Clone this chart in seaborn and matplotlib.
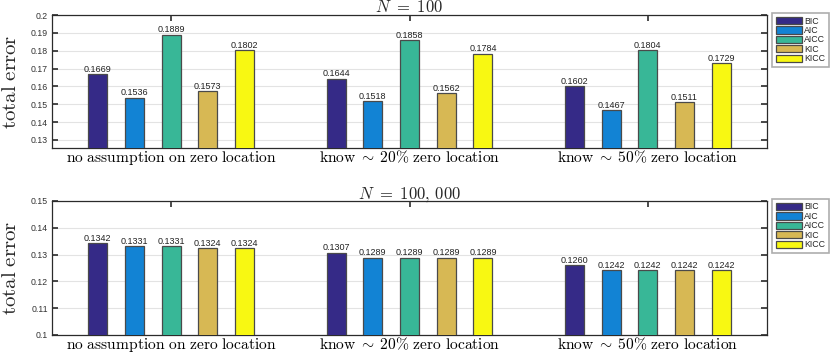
import matplotlib
matplotlib.use("Agg")
import matplotlib.pyplot as plt
import seaborn as sns
import pandas as pd

scenarios = [r"$\mathrm{no\ assumption\ on\ zero\ location}$",
             r"$\mathrm{know}\;\sim\;20\%\ \mathrm{zero\ location}$",
             r"$\mathrm{know}\;\sim\;50\%\ \mathrm{zero\ location}$"]
methods = ["BIC", "AIC", "AICC", "KIC", "KICC"]
colors = ["#352a87", "#1283d4", "#38b797", "#d7b854", "#f8f812"]

err_n100 = {
    "BIC":  [0.1669, 0.1644, 0.1602],
    "AIC":  [0.1536, 0.1518, 0.1467],
    "AICC": [0.1889, 0.1858, 0.1804],
    "KIC":  [0.1573, 0.1562, 0.1511],
    "KICC": [0.1802, 0.1784, 0.1729],
}
err_n100k = {
    "BIC":  [0.1342, 0.1307, 0.1260],
    "AIC":  [0.1331, 0.1289, 0.1242],
    "AICC": [0.1331, 0.1289, 0.1242],
    "KIC":  [0.1324, 0.1289, 0.1242],
    "KICC": [0.1324, 0.1289, 0.1242],
}
titles = [r"$N\ =\ 100$", r"$N\ =\ 100,\,000$"]
ylims = [(0.1255, 0.2), (0.1, 0.15)]
yticks = [[0.13, 0.14, 0.15, 0.16, 0.17, 0.18, 0.19, 0.2],
          [0.1, 0.11, 0.12, 0.13, 0.14, 0.15]]
ytick_labels = [["0.13", "0.14", "0.15", "0.16", "0.17", "0.18", "0.19", "0.2"],
                ["0.1", "0.11", "0.12", "0.13", "0.14", "0.15"]]


def to_long(d):
    rows = []
    for m in methods:
        for s, v in zip(scenarios, d[m]):
            rows.append({"scenario": s, "method": m, "err": v})
    return pd.DataFrame(rows)


sns.set_theme(style="white")
plt.rcParams["mathtext.fontset"] = "cm"
plt.rcParams["font.family"] = ["Liberation Sans", "DejaVu Sans"]

W, H = 831, 353
fig = plt.figure(figsize=(W / 100, H / 100), dpi=100)
axes_px = [(52, 15, 767, 148), (52, 201, 767, 335)]

for i, (data, px) in enumerate(zip([err_n100, err_n100k], axes_px)):
    l, t, r, b = px
    ax = fig.add_axes([l / W, 1 - b / H, (r - l) / W, (b - t) / H])
    df = to_long(data)
    sns.barplot(data=df, x="scenario", y="err", hue="method", hue_order=methods,
                order=scenarios, palette=colors, saturation=1, width=0.77, gap=0.48,
                edgecolor="#4a4a4a", linewidth=0.9, ax=ax, legend=True, zorder=3)
    for c in ax.containers:
        ax.bar_label(c, fmt="%.4f", fontsize=6.5, padding=0.3, color="#222222")
    ax.set_xlim(-0.5, 2.5)
    ax.set_ylim(*ylims[i])
    ax.set_yticks(yticks[i])
    ax.set_yticklabels(ytick_labels[i], fontsize=6.3, color="#333333")
    ax.tick_params(axis="x", labelsize=11.2, pad=1.0, direction="in", length=4,
                   top=True, bottom=False, colors="#333333", labelcolor="black")
    ax.tick_params(axis="y", direction="in", length=4, left=True, right=True,
                   colors="#333333", pad=3)
    ax.yaxis.grid(True, color="#e3e3e3", linewidth=0.8, zorder=0)
    ax.set_axisbelow(True)
    for sp in ax.spines.values():
        sp.set_color("#2b2b2b")
        sp.set_linewidth(0.9)
    ax.set_xlabel("")
    ax.set_ylabel("")
    fig.text(11 / W, 1 - ((t + b) / 2) / H, r"$\mathrm{total\ error}$", fontsize=15,
             rotation=90, ha="center", va="center")
    ax.set_title(titles[i], fontsize=12, pad=2)
    leg = ax.legend(loc="upper left", bbox_to_anchor=(1.007, 1.015), fontsize=6.3,
                    frameon=True, fancybox=False, edgecolor="#999999",
                    handlelength=3.0, handleheight=0.9, handletextpad=0.3,
                    labelspacing=0.05, borderpad=0.4, borderaxespad=0)
    leg.get_frame().set_linewidth(1.2)

fig.savefig("out.png", dpi=100)
